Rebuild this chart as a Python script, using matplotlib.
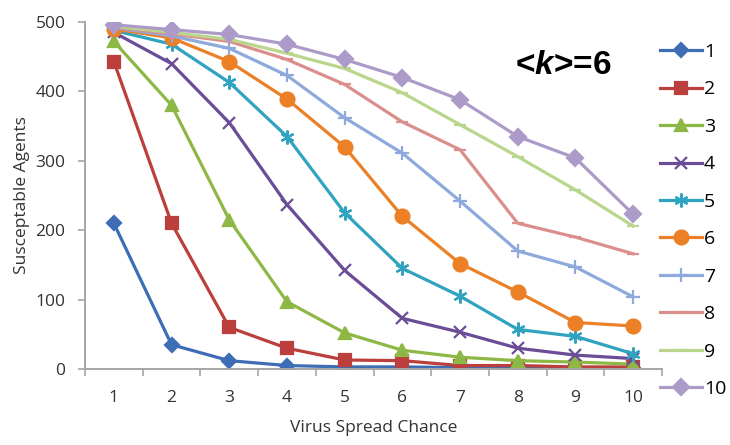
import matplotlib
matplotlib.use("Agg")
import matplotlib.pyplot as plt
from matplotlib.lines import Line2D

# Virus spread chance (category axis)
spread_chance = [1, 2, 3, 4, 5, 6, 7, 8, 9, 10]

# Susceptible agents remaining, one series per initial infected count
s1 = [210, 35, 12, 5, 3, 3, 2, 2, 2, 2]
s2 = [443, 210, 60, 30, 13, 12, 5, 5, 3, 3]
s3 = [472, 380, 215, 97, 52, 27, 17, 12, 10, 7]
s4 = [485, 440, 355, 237, 142, 73, 53, 30, 20, 15]
s5 = [488, 468, 413, 335, 225, 145, 105, 57, 47, 22]
s6 = [490, 477, 443, 389, 320, 220, 152, 111, 67, 62]
s7 = [492, 480, 462, 423, 362, 311, 242, 170, 147, 104]
s8 = [493, 483, 472, 446, 410, 356, 316, 210, 190, 166]
s9 = [494, 485, 475, 455, 433, 398, 352, 306, 258, 206]
s10 = [496, 489, 482, 468, 446, 420, 388, 335, 304, 223]

series = [s1, s2, s3, s4, s5, s6, s7, s8, s9, s10]
labels = ["1", "2", "3", "4", "5", "6", "7", "8", "9", "10"]
y_ticks = [0, 100, 200, 300, 400, 500]

colors = ["#3D6DB5", "#BB3F3C", "#8DB845", "#6B4C97", "#2FA3C0",
          "#EB8027", "#8EAADC", "#DB8F8D", "#B9D68C", "#AC9AC9"]
markers = ["D", "s", "^", "x", (6, 2, 0), "o", "+", "_", "_", "D"]
msizes = [7, 8, 9, 9, 10, 10, 10, 8, 8, 8]

plt.rcParams["font.family"] = ["Open Sans", "DejaVu Sans"]
plt.rcParams["mathtext.fontset"] = "custom"
plt.rcParams["mathtext.bfit"] = "Liberation Sans:italic:bold"
plt.rcParams["mathtext.rm"] = "Liberation Sans:bold"

fig = plt.figure(figsize=(7.30, 4.45), dpi=100)
ax = fig.add_axes([85 / 730, 76 / 445, 577 / 730, 347 / 445])

for vals, c, m, ms in zip(series, colors, markers, msizes):
    ax.plot(spread_chance, vals, color=c, lw=2.3, marker=m, ms=ms,
            mew=1.6, mec=c, mfc=c, solid_joinstyle="round")

ax.set_xlim(0.5, 10.5)
ax.set_ylim(0, 500)
ax.set_yticks(y_ticks)
ax.set_xticks(spread_chance)
ax.set_xticks([x + 0.5 for x in range(0, 11)], minor=True)
ax.tick_params(axis="x", which="major", length=0, pad=15,
               labelsize=12.5, labelcolor="#333333")
ax.tick_params(axis="x", which="minor", length=5, width=1.2,
               color="#A6A6A6", direction="out")
ax.tick_params(axis="y", which="major", length=5, width=1.2,
               color="#A6A6A6", labelsize=12.5, labelcolor="#333333", pad=9)

for side in ("top", "right"):
    ax.spines[side].set_visible(False)
for side in ("left", "bottom"):
    ax.spines[side].set_color("#A6A6A6")
    ax.spines[side].set_linewidth(1.4)

ax.set_xlabel("Virus Spread Chance", fontsize=12.5, color="#333333", labelpad=10)
ax.set_ylabel("Susceptable Agents", fontsize=12.5, color="#333333", labelpad=4)

ax.text(563 / 730, 1 - 66 / 445, r"<$\mathbfit{k}$>=6", transform=fig.transFigure,
        fontsize=24, fontfamily="Liberation Sans", fontweight="bold",
        ha="center", va="center", color="black")

handles = [Line2D([], [], color=c, lw=2.3, marker=m, ms=ms, mew=1.6, mfc=c, mec=c)
           for c, m, ms in zip(colors, markers, msizes)]
fig.legend(handles, labels, loc="upper left", bbox_to_anchor=(660 / 730, 1 - 43 / 445),
           frameon=False, fontsize=14, handlelength=2.15, handletextpad=0.1,
           labelspacing=1.0, borderaxespad=0, borderpad=0)

fig.savefig("out.png", dpi=100)
